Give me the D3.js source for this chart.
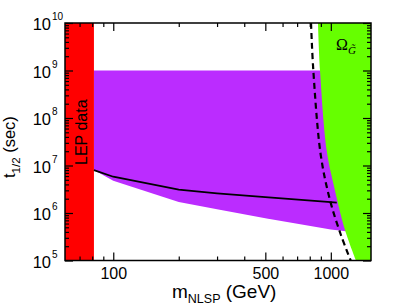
<!DOCTYPE html>
<html><head><meta charset="utf-8">
<script src="https://cdn.jsdelivr.net/npm/d3@7"></script>
<style>body{margin:0;background:#fff;} svg{display:block;}</style>
</head><body>
<svg id="c" width="409" height="308"></svg>
<script>
// ---- data ----
const xDomain = [60, 1530];
const yDomain = [1e5, 1e10];
const lepLimit = 81.5;
const purpleTop = 1e9;
const purpleMass = [81.5, 100, 200, 300, 500, 1000, 1200];
const purpleBottom = [8.0e6, 4.8e6, 1.7e6, 1.2e6, 7.8e5, 4.5e5, 4.1e5];
const lineMass = [81.5, 100, 200, 300, 500, 1000, 1065];
const lineT = [8.0e6, 5.8e6, 3.1e6, 2.6e6, 2.15e6, 1.7e6, 1.65e6];
const omegaMass = [873, 892, 957, 1027, 1162, 1306];
const omegaT = [1e10, 1e9, 2.1e7, 4.2e6, 4.4e5, 1e5];
const dashMass = [811, 831, 899, 991, 1114, 1234];
const dashT = [1e10, 1e9, 1.66e7, 1.88e6, 3.4e5, 1e5];
const xMajor = [100, 500, 1000];
const xMinor = [70, 80, 90, 200, 300, 400, 600, 700, 800, 900];
const yExps = [5, 6, 7, 8, 9, 10];

// ---- layout ----
const L = 65, R = 371, T = 23, B = 260.5;
const svg = d3.select("#c");
const x = d3.scaleLog().domain(xDomain).range([L, R]);
const y = d3.scaleLog().domain(yDomain).range([B, T]);
const yMajor = yExps.map(e => Math.pow(10, e));
const yMinor = [];
for (let e = 5; e < 10; e++) for (let m = 2; m <= 9; m++) yMinor.push(m * Math.pow(10, e));

svg.append("clipPath").attr("id", "clip").append("rect")
  .attr("x", L).attr("y", T).attr("width", R - L).attr("height", B - T);
const g = svg.append("g").attr("clip-path", "url(#clip)");

// purple region
const purplePts = purpleMass.map((m, i) => [m, purpleBottom[i]]);
const purplePoly = [[purpleMass[0], purpleTop], [purpleMass[purpleMass.length - 1], purpleTop]]
  .concat(purplePts.slice().reverse());
g.append("path")
  .attr("d", d3.line().x(d => x(d[0])).y(d => y(d[1]))(purplePoly) + "Z")
  .attr("fill", "#bb2cff");

// LEP band
g.append("rect").attr("x", x(xDomain[0])).attr("y", T)
  .attr("width", x(lepLimit) - x(xDomain[0])).attr("height", B - T).attr("fill", "#ff0000");

// omega region
const omegaPts = omegaMass.map((m, i) => [m, omegaT[i]]);
const omegaLine = d3.line().x(d => x(d[0])).y(d => y(d[1])).curve(d3.curveCatmullRom);
g.append("path")
  .attr("d", omegaLine(omegaPts) + `L${x(xDomain[1])},${y(yDomain[0])}L${x(xDomain[1])},${y(yDomain[1])}Z`)
  .attr("fill", "#66ff00");

// solid line
g.append("path")
  .attr("d", d3.line().x((d, i) => x(d)).y((d, i) => y(lineT[i]))(lineMass))
  .attr("fill", "none").attr("stroke", "#000").attr("stroke-width", 1.8);

// dashed line
g.append("path")
  .attr("d", d3.line().x(d => x(d[0])).y(d => y(d[1])).curve(d3.curveCatmullRom)(dashMass.map((m, i) => [m, dashT[i]])))
  .attr("fill", "none").attr("stroke", "#000").attr("stroke-width", 2.2).attr("stroke-dasharray", "6,4");

// axes ticks
function styleAxis(sel) {
  sel.select(".domain").remove();
  sel.selectAll(".tick line").attr("stroke", "#000").attr("stroke-width", 1.2);
  sel.selectAll("text").attr("font-family", "Liberation Sans, Arial, sans-serif").attr("font-size", 16).attr("fill", "#000");
}
svg.append("g").attr("transform", `translate(0,${B})`)
  .call(d3.axisBottom(x).tickValues(xMajor).tickSize(-8).tickPadding(7).tickFormat(d3.format("d"))).call(styleAxis);
svg.append("g").attr("transform", `translate(0,${B})`)
  .call(d3.axisBottom(x).tickValues(xMinor).tickSize(-4).tickFormat("")).call(styleAxis);
svg.append("g").attr("transform", `translate(0,${T})`)
  .call(d3.axisTop(x).tickValues(xMajor).tickSize(-8).tickFormat("")).call(styleAxis);
svg.append("g").attr("transform", `translate(0,${T})`)
  .call(d3.axisTop(x).tickValues(xMinor).tickSize(-4).tickFormat("")).call(styleAxis);
svg.append("g").attr("transform", `translate(${L},0)`)
  .call(d3.axisLeft(y).tickValues(yMajor).tickSize(-8).tickFormat("")).call(styleAxis);
svg.append("g").attr("transform", `translate(${L},0)`)
  .call(d3.axisLeft(y).tickValues(yMinor).tickSize(-4).tickFormat("")).call(styleAxis);
svg.append("g").attr("transform", `translate(${R},0)`)
  .call(d3.axisRight(y).tickValues(yMajor).tickSize(-8).tickFormat("")).call(styleAxis);
svg.append("g").attr("transform", `translate(${R},0)`)
  .call(d3.axisRight(y).tickValues(yMinor).tickSize(-4).tickFormat("")).call(styleAxis);

// frame
svg.append("rect").attr("x", L).attr("y", T).attr("width", R - L).attr("height", B - T)
  .attr("fill", "none").attr("stroke", "#000").attr("stroke-width", 1.5);

// y tick labels
const font = "Liberation Sans, Arial, sans-serif";
const yl = svg.append("g").attr("font-family", font).attr("fill", "#000");
yExps.forEach(e => {
  const yy = y(Math.pow(10, e));
  yl.append("text").attr("x", 51).attr("y", yy + 7).attr("text-anchor", "end")
    .attr("font-size", 16.5).text("10");
  yl.append("text").attr("x", 52).attr("y", yy - 3).attr("font-size", 10).text(String(e));
});

// axis titles
const xt = svg.append("text").attr("x", 172).attr("y", 298).attr("font-family", font).attr("font-size", 19);
xt.append("tspan").text("m");
xt.append("tspan").attr("dy", 5).attr("font-size", 12.5).text("NLSP");
xt.append("tspan").attr("dy", -5).text(" (GeV)");

const yt = svg.append("text").attr("transform", "translate(15,178) rotate(-90)")
  .attr("font-family", font).attr("font-size", 16.5);
yt.append("tspan").text("t");
yt.append("tspan").attr("dy", 5).attr("font-size", 11.5).text("1/2");
yt.append("tspan").attr("dy", -5).text(" (sec)");

// LEP label
svg.append("text").attr("transform", `translate(86.5,165) rotate(-90)`)
  .attr("font-family", font).attr("font-size", 16).attr("fill", "#000").text("LEP data");

// omega label
const ol = svg.append("text").attr("x", 336).attr("y", 50)
  .attr("font-family", "Liberation Serif, DejaVu Serif, serif").attr("font-size", 16).attr("fill", "#000");
ol.append("tspan").text("Ω");
ol.append("tspan").attr("dy", 4).attr("font-size", 11).attr("font-style", "italic").text("G\u0303");
</script>
</body></html>
